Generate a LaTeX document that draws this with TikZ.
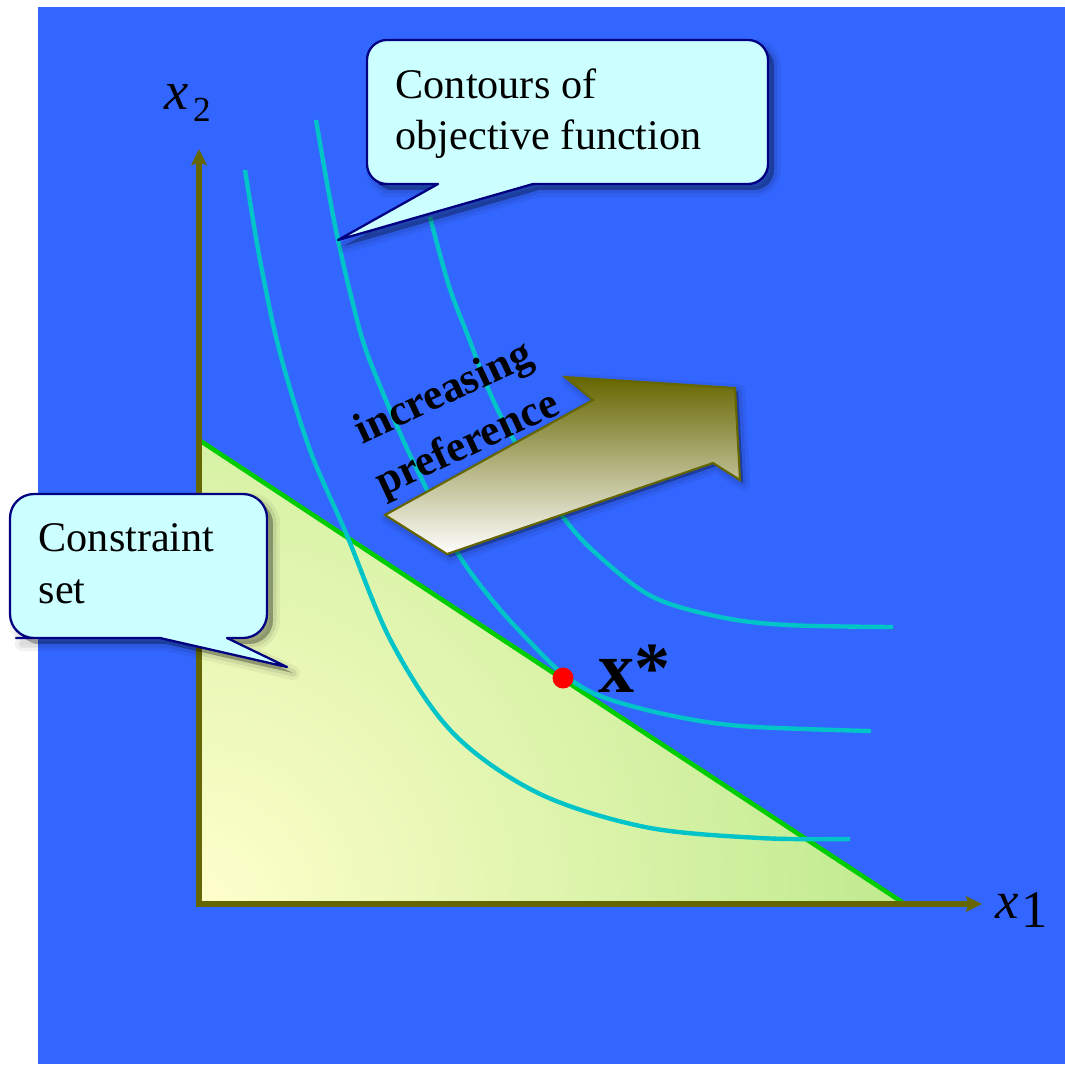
\documentclass[tikz,border=0pt]{standalone}
\usepackage{fontspec}
\setmainfont{Liberation Serif}
\usetikzlibrary{arrows.meta}
\definecolor{bgblue}{HTML}{3366FF}
\definecolor{callfill}{HTML}{CCFFFF}
\definecolor{callborder}{HTML}{000080}
\definecolor{axolive}{HTML}{666600}
\definecolor{lingreen}{HTML}{00CC00}
\definecolor{contourc}{HTML}{00C4C8}
\definecolor{triyellow}{HTML}{FFFFCC}
\definecolor{trigreen}{HTML}{BDE98C}
\tikzset{
  axisline/.style={draw=axolive, line width=1.45pt, {Stealth[length=4.6pt,width=4.4pt,inset=0.8pt]}-{Stealth[length=4.6pt,width=4.4pt,inset=0.8pt]}},
  contour/.style={draw=contourc, line width=1.25pt},
  softshadow/.style={
    preaction={fill=black, fill opacity=0.10, draw=black, draw opacity=0.05, line width=4pt, line join=round, transform canvas={shift={(#1,-#1)}}},
    preaction={fill=black, fill opacity=0.10, draw=black, draw opacity=0.08, line width=2pt, line join=round, transform canvas={shift={(#1,-#1)}}},
    preaction={fill=black, fill opacity=0.12, transform canvas={shift={(#1,-#1)}}}},
  callout/.style={softshadow=1.7pt, fill=callfill, draw=callborder, line width=0.65pt, line join=round},
  calltext/.style={font=\fontsize{12pt}{14.6pt}\selectfont, align=left, inner sep=0pt},
  bigarrow/.style={softshadow=0.9pt, draw=axolive, line width=0.6pt, top color=axolive, bottom color=white},
}
\begin{document}
\begin{tikzpicture}[x=0.01cm,y=-0.01cm]
\useasboundingbox (0,0) rectangle (1065,1064);
\fill[white] (0,0) rectangle (1065,1064);
\fill[bgblue] (38,7) rectangle (1065,1064);

% constraint set
\coordinate (T) at (199,440);
\coordinate (R) at (905,904);
\coordinate (O) at (199,904);
\begin{scope}
  \clip (T) -- (R) -- (O) -- cycle;
  \shade[inner color=triyellow, outer color=trigreen] (O) circle (740);
\end{scope}
\draw[lingreen, line width=1.3pt] (T) -- (R);

% axes
\coordinate (Yend) at (199,149);
\coordinate (Xend) at (982,904);
\draw[axisline] (Yend) -- (O) -- (Xend);
\node[anchor=base west, inner sep=0pt, font=\fontsize{15.5pt}{18pt}\selectfont] (xtwo) at (164,110)
  {\textit{x}\kern1.2pt\raisebox{-3.4pt}{\fontsize{10pt}{12pt}\selectfont 2}};
\node[anchor=base west, inner sep=0pt, font=\fontsize{15pt}{18pt}\selectfont] (xone) at (995,918)
  {\textit{x}\kern0.6pt\raisebox{-2.8pt}{1}};

% contours
\draw[contour] plot[smooth, tension=0.55] coordinates {(245,170) (260,260) (280,353) (310,450) (346,533) (392,643) (453,733) (538,793) (645,827) (760,838) (850,839)};
\draw[contour] plot[smooth, tension=0.55] coordinates {(316,120) (327,183) (338,240) (352,300) (367,353) (400,433) (427,490) (457,552) (492,600) (530,642) (563,674) (600,696) (664,714) (741,726) (871,731)};
\draw[contour] plot[smooth, tension=0.55] coordinates {(430,217) (449,286) (468,336) (490,393) (515,442) (563,517) (600,557) (653,597) (720,617) (787,625) (893,627)};

% increasing preference arrow
\path[bigarrow] (385,515) -- (593,400) -- (565,377) -- (735,388) -- (740,480) -- (713,463) -- (447,554) -- cycle;
\node[rotate=25, align=center, inner sep=0pt, font=\bfseries\fontsize{12.4pt}{16pt}\selectfont] (pref) at (456,420) {increasing\\preference};

% optimum
\node[circle, fill=red, minimum size=0.21cm, inner sep=0pt] (xstar) at (563,678) {};
\node[anchor=base west, inner sep=0pt, font=\bfseries\fontsize{20.5pt}{24pt}\selectfont] (xstarlabel) at (598,692) {x*};

% callouts
\path[callout] (438,184) -- (338,240) -- (533,184) -- (700,184) [rounded corners=0.2cm] -- (768,184) -- (768,40) -- (367,40) -- (367,184) -- (400,184) [sharp corners] -- cycle;
\node[calltext, anchor=base west] (contlbl) at (395,150) {Contours of\\objective function};

\path[callout] (160,638) -- (287,667) -- (227,638) -- (240,638) [rounded corners=0.24cm] -- (267,638) -- (267,494) -- (10,494) -- (10,638) -- (40,638) [sharp corners] -- cycle;
\node[calltext, anchor=base west] (conslbl) at (38,603) {Constraint\\set};
\end{tikzpicture}
\end{document}
